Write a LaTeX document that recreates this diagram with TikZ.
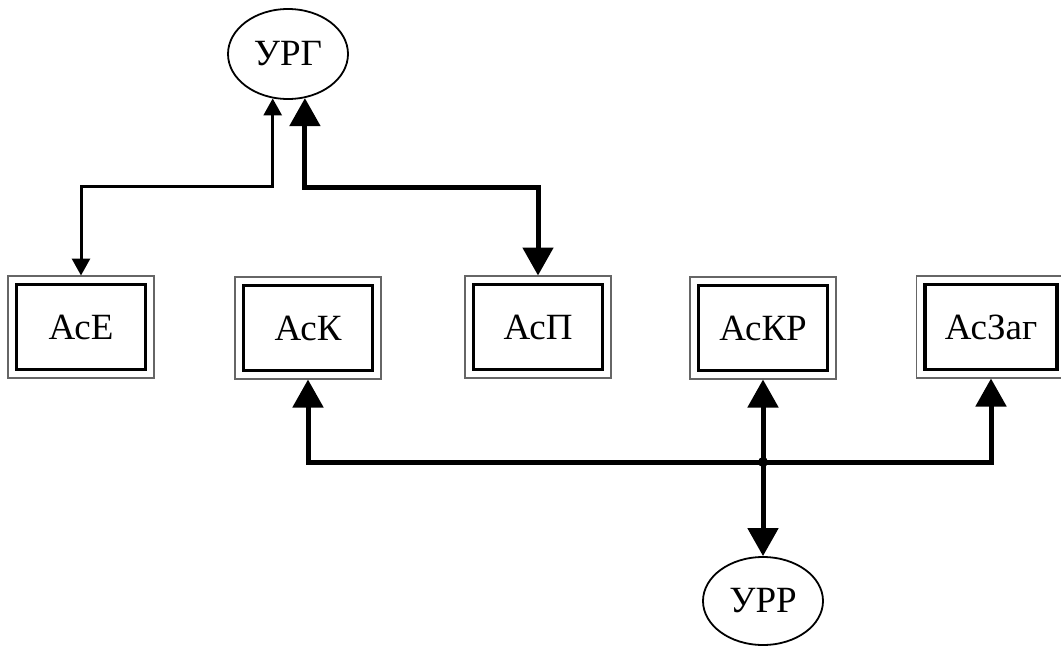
\documentclass[tikz,border=0pt]{standalone}
\usepackage{fontspec}
\setmainfont{Liberation Serif}
\usetikzlibrary{arrows.meta,positioning,calc,shapes.geometric}

\tikzset{
  unit/.style={draw, line width=3.5pt, minimum width=129pt, minimum height=85pt, outer sep=9pt, inner sep=0pt, font=\fontsize{37}{40}\selectfont},
  ctrl/.style={draw, ellipse, line width=1.8pt, minimum width=120pt, minimum height=90pt, inner sep=0pt, font=\fontsize{37}{40}\selectfont},
  frame/.style={draw=black!60, line width=1.3pt},
  thinlink/.style={line width=3pt, {Triangle[length=17pt,width=18pt]}-{Triangle[length=17pt,width=18pt]}},
  thicklink/.style={line width=5pt, {Triangle[length=28pt,width=30pt]}-{Triangle[length=28pt,width=30pt]}},
}

\begin{document}
\begin{tikzpicture}[x=1pt, y=-1pt]
    \useasboundingbox (0,0) rectangle (1061,648);
    % control units
    \node[ctrl] (urg) at (288,54) {УРГ};
    \node[ctrl, minimum height=88pt] (urr) at (763,601) {УРР};
    % subsystems
    \node[unit] (ace) at (81,327) {АсЕ};
    \node[unit] (ack) at (308,328) {АсК};
    \node[unit] (acp) at (538,327) {АсП};
    \node[unit] (ackr) at (763,328) {АсКР};
    \node[unit, minimum width=132pt] (aczag) at (991,327) {АсЗаг};
    % outer frames
    \foreach \n in {ace,ack,acp,ackr,aczag}
      \draw[frame] ($(\n.south west)+(0.6,-0.6)$) rectangle ($(\n.north east)+(-0.6,0.6)$);
    % links to УРГ
    \draw[thinlink] (urg.251) -- ++(0,88) -| (ace.north);
    \draw[thicklink] (urg.291) -- ++(0,89) -| (acp.north);
    % bus to УРР
    \coordinate (jn) at (763,462);
    \draw[thicklink] (ack.south) |- (jn) -| (aczag.south);
    \draw[thicklink] (ackr.south) -- (urr.north);
    \fill (jn) circle (5);
  \end{tikzpicture}
\end{document}
